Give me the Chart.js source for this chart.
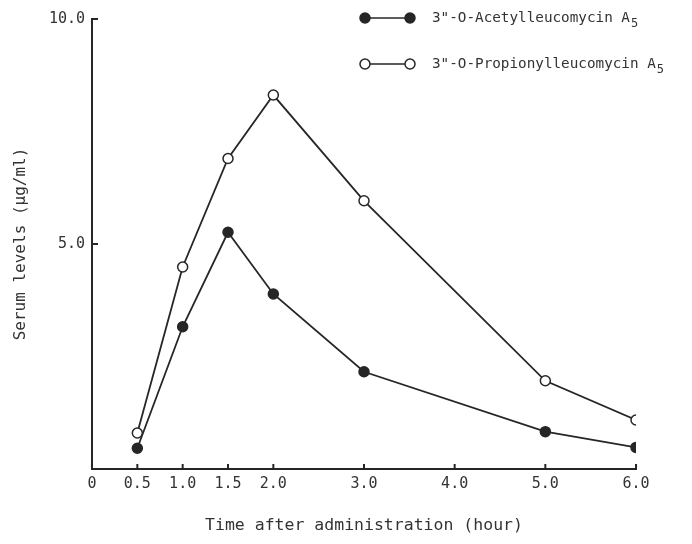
<!DOCTYPE html>
<html>
<head>
<meta charset="utf-8">
<script src="https://cdn.jsdelivr.net/npm/chart.js@4"></script>
<style>
html,body{margin:0;padding:0;background:#fff;}
#wrap{width:692px;height:544px;}
</style>
</head>
<body>
<div id="wrap"><canvas id="myChart" width="692" height="544"></canvas></div>
<script>
// values
var hours = [0.5, 1.0, 1.5, 2.0, 3.0, 5.0, 6.0];
var acetyl = [0.46, 3.16, 5.26, 3.89, 2.16, 0.83, 0.48];
var propionyl = [0.80, 4.49, 6.90, 8.31, 5.96, 1.96, 1.09];
var xTicks = [0, 0.5, 1.0, 1.5, 2.0, 3.0, 4.0, 5.0, 6.0];
var yTicks = [5.0, 10.0];
var seriesNames = ['3"-O-Acetylleucomycin A', '3"-O-Propionylleucomycin A'];

var ink = '#262626';
var textColor = '#333';
var mono = 'DejaVu Sans Mono';
var tickFont = {family: mono, size: 15};

function toPoints(xs, ys){
    return xs.map(function(x, i){ return {x: x, y: ys[i]}; });
}

// short tick marks pointing into the plot
var innerTicks = {
    id: 'innerTicks',
    afterDraw: function(chart){
        var ctx = chart.ctx, x = chart.scales.x, y = chart.scales.y;
        ctx.save();
        ctx.strokeStyle = ink;
        ctx.lineWidth = 2;
        xTicks.forEach(function(v){
            if (v === 0) return;
            var px = x.getPixelForValue(v);
            ctx.beginPath();
            ctx.moveTo(px, y.bottom);
            ctx.lineTo(px, y.bottom - 5);
            ctx.stroke();
        });
        yTicks.forEach(function(v){
            var py = y.getPixelForValue(v);
            ctx.beginPath();
            ctx.moveTo(x.left, py);
            ctx.lineTo(x.left + 6, py);
            ctx.stroke();
        });
        ctx.restore();
    }
};

// legend in the top right corner, marker - line - marker then the name
var sideLegend = {
    id: 'sideLegend',
    afterDraw: function(chart){
        var ctx = chart.ctx;
        ctx.save();
        chart.data.datasets.forEach(function(ds, i){
            var ly = 18 + i * 46;
            ctx.strokeStyle = ink;
            ctx.lineWidth = 1.6;
            ctx.beginPath();
            ctx.moveTo(365, ly);
            ctx.lineTo(410, ly);
            ctx.stroke();
            [365, 410].forEach(function(cx){
                ctx.beginPath();
                ctx.arc(cx, ly, 5, 0, Math.PI * 2);
                ctx.fillStyle = ds.pointBackgroundColor;
                ctx.fill();
                ctx.lineWidth = 1.5;
                ctx.stroke();
            });
            ctx.fillStyle = textColor;
            ctx.textBaseline = 'middle';
            ctx.textAlign = 'left';
            ctx.font = '14.3px "' + mono + '"';
            ctx.fillText(ds.label, 432, ly);
            var w = ctx.measureText(ds.label).width;
            ctx.font = '12px "' + mono + '"';
            ctx.fillText('5', 432 + w + 1, ly + 6);
        });
        ctx.restore();
    }
};

const ctx = document.getElementById('myChart').getContext('2d');
const myChart = new Chart(ctx, {
    type: 'scatter',
    data: {
        datasets: [
            {
                label: seriesNames[0],
                data: toPoints(hours, acetyl),
                showLine: true,
                borderColor: ink,
                borderWidth: 1.8,
                pointRadius: 5,
                pointBorderWidth: 1.5,
                pointBorderColor: ink,
                pointBackgroundColor: ink
            },
            {
                label: seriesNames[1],
                data: toPoints(hours, propionyl),
                showLine: true,
                borderColor: ink,
                borderWidth: 1.8,
                pointRadius: 5,
                pointBorderWidth: 1.5,
                pointBorderColor: ink,
                pointBackgroundColor: '#fff'
            }
        ]
    },
    options: {
        responsive: false,
        animation: false,
        devicePixelRatio: 1,
        layout: {padding: {top: 19, right: 56, left: 0, bottom: 0}},
        plugins: {legend: {display: false}, tooltip: {enabled: false}},
        scales: {
            x: {
                type: 'linear',
                min: 0,
                max: 6,
                afterBuildTicks: function(s){ s.ticks = xTicks.map(function(v){ return {value: v}; }); },
                afterFit: function(s){ s.height = 75; },
                grid: {display: false, drawTicks: false},
                border: {display: true, color: ink, width: 2},
                ticks: {
                    padding: 6,
                    font: tickFont,
                    color: textColor,
                    maxRotation: 0,
                    autoSkip: false,
                    callback: function(v){ return v === 0 ? '0' : Number(v).toFixed(1); }
                },
                title: {
                    display: true,
                    text: 'Time after administration (hour)',
                    font: {family: mono, size: 16.5},
                    color: textColor,
                    padding: {top: 0, bottom: 8}
                }
            },
            y: {
                min: 0,
                max: 10,
                afterBuildTicks: function(s){ s.ticks = yTicks.map(function(v){ return {value: v}; }); },
                afterFit: function(s){ s.width = 92; },
                grid: {display: false, drawTicks: false},
                border: {display: true, color: ink, width: 2},
                ticks: {
                    padding: 7,
                    font: tickFont,
                    color: textColor,
                    callback: function(v){ return Number(v).toFixed(1); }
                },
                title: {
                    display: true,
                    text: 'Serum levels (μg/ml)',
                    font: {family: mono, size: 16},
                    color: textColor,
                    padding: {top: 11, bottom: 0}
                }
            }
        }
    },
    plugins: [innerTicks, sideLegend]
});
</script>
</body>
</html>
